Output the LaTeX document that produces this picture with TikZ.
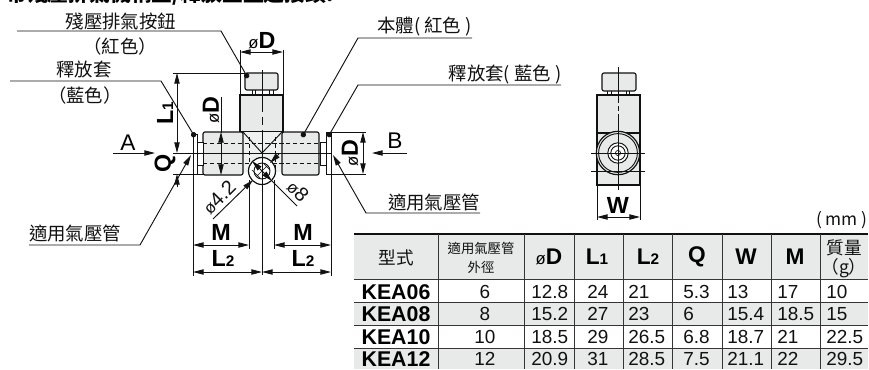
\documentclass[tikz,border=0pt]{standalone}
\usepackage{fontspec}
\setmainfont{Liberation Sans}
\newfontfamily\cjk{Noto Sans CJK TC}
\usetikzlibrary{arrows.meta}
\definecolor{bodygray}{HTML}{E8E9E9}
\definecolor{centergray}{HTML}{EFF0F0}
\definecolor{ink}{HTML}{111111}
\newcommand{\fs}[1]{\fontsize{#1}{#1}\selectfont}
\newcommand{\dia}{{\fs{12.5pt}\mdseries ø}}
\tikzset{
  x=.75pt,y=-.75pt,
  ln/.style={draw=ink,line width=.7pt},
  thin line/.style={draw=ink,line width=.5pt},
  thick line/.style={draw=ink,line width=.9pt},
  part/.style={fill=bodygray,draw=ink,line width=.85pt},
  hole/.style={draw=ink,line width=.7pt,dash pattern=on 3.2pt off 2pt},
  dimarrow/.style={ln,{Triangle[length=8pt,width=4pt]}-{Triangle[length=8pt,width=4pt]}},
  endarrow/.style={ln,-{Triangle[length=8pt,width=4pt]}},
  leader/.style={ln,-{Circle[length=4pt]}},
  cjklabel/.style={inner sep=0,font=\cjk\fs{13.8pt},text=ink},
  dimlabel/.style={inner sep=0,font=\bfseries\fs{17.5pt},text=black},
  th/.style={inner sep=0,font=\bfseries\fs{17pt},text=black},
  thc/.style={inner sep=0,font=\cjk\fs{13.2pt},text=ink},
  thsm/.style={inner sep=0,font=\cjk\fs{10pt},text=ink},
  model/.style={inner sep=0,font=\bfseries\fs{16pt},text=black},
  val/.style={inner sep=0,font=\fs{14.2pt},text=ink},
  vall/.style={val,anchor=west},
  tl/.style={draw=ink!85,line width=.7pt},
}
\begin{document}
\begin{tikzpicture}
\useasboundingbox (0,0) rectangle (869,369);
\begin{scope}
\clip (0,0) rectangle (869,369);
% clipped heading
\node[anchor=west,inner sep=0,font=\cjk\bfseries\fs{15.6pt}] (title) at (6,-6) {帶殘壓排氣機構型/釋放型直通接頭:};

% table backgrounds
\fill[bodygray] (354,234) rectangle (868,279);
\fill[bodygray] (354,302) rectangle (868,325);
\fill[bodygray] (354,348) rectangle (868,369);
\draw[draw=ink,line width=1.5pt] (354,234) -- (868,234);
\foreach \yy in {279,302,325,348} \draw[tl] (354,\yy) -- (868,\yy);
\foreach \xx in {438,524,574,623,672,722,771,820} \draw[tl] (\xx,234) -- (\xx,369);

% front view: shapes
\draw[part,rounded corners=1.5pt] (245,73) rectangle (278,90);
\draw[ln] (252,90) -- (252,95) (255,90) -- (255,95) (269,90) -- (269,95) (273,90) -- (273,95);
\draw[part] (240,95) rectangle (283,132);
\fill[centergray] (243,132) rectangle (282,172);
\draw[part,rounded corners=1.5pt] (203,132) rectangle (243,175);
\draw[part,rounded corners=1.5pt] (282,132) rectangle (319,175);
\draw[ln,fill=white] (197,142) rectangle (203,165);
\draw[ln,fill=white] (193,134) rectangle (197,174);
\draw[ln,fill=white] (320,142) rectangle (326,165);
\draw[ln,fill=white] (326,132) rectangle (331,174);
\draw[ln] (243,132) -- (262,153) -- (282,132);
\draw[hole] (203,143) -- (319,143) (203,163) -- (319,163);
\draw[hole] (249,137) -- (249,172) (275,137) -- (275,172);
\draw[thick line,fill=white] (262,171) circle[radius=13.5];
\draw[ln] (262,171) circle[radius=8];
\draw[thin line] (256,165) -- (268,177) (252,170) -- (260,178) (264,164) -- (270,170) (268,165) -- (256,177);

% extension and centre lines
\draw[ln] (173,73) -- (245,73) (173,153) -- (332,153) (173,174) -- (204,174);
\draw[ln] (262,70) -- (262,112) (262,117) -- (262,125) (262,130) -- (262,275);
\draw[ln] (240,50) -- (240,95) (283,50) -- (283,95);
\draw[ln] (193,175) -- (193,276) (331,174) -- (331,276);
\draw[ln] (249,180) -- (249,249) (274,180) -- (274,249);
\draw[ln] (331,132) -- (366,132) (331,174) -- (366,174);
\draw[ln] (221,97) -- (221,133);

% side view
\draw[part,rounded corners=1.5pt] (602,73) rectangle (636,91);
\draw[ln] (607,91) -- (607,95) (611,91) -- (611,95) (626,91) -- (626,95) (629,91) -- (629,95);
\draw[part] (597,133) rectangle (640,185);
\draw[part] (597,95) rectangle (640,133);
\draw[thick line,fill=bodygray] (618,153) circle[radius=21.7];
\draw[ln] (618,153) circle[radius=19.4];
\draw[ln,fill=white] (618,153) circle[radius=10.2];
\draw[ln] (618,153) circle[radius=7.2];
\draw[thin line] (618,153) circle[radius=2.6];
\draw[ln] (618,67) -- (618,103) (618,106) -- (618,111) (618,114) -- (618,190);
\draw[ln] (591,153) -- (645,153) (591,171) -- (645,171);
\draw[ln] (597,185) -- (597,220) (640,185) -- (640,220);

% dimension arrows
\coordinate (tlA) at (240,52); \coordinate (trA) at (283,52);
\draw[dimarrow] (tlA) -- (trA);
\node[dimlabel] (dTop) at (262,41) {\dia D};
\coordinate (L1a) at (177,73); \coordinate (L1b) at (177,153);
\draw[dimarrow] (L1a) -- (L1b);
\node[dimlabel,rotate=90] (L1t) at (165,113) {L\fs{11.5pt}1};
\coordinate (Qa) at (177,174); \coordinate (Qb) at (177,187);
\draw[endarrow] (Qb) -- (Qa);
\node[dimlabel,rotate=90] (Qt) at (165,163) {Q};
\coordinate (Da) at (221,132); \coordinate (Db) at (221,175);
\draw[dimarrow] (Da) -- (Db);
\node[dimlabel,rotate=90] (dL) at (211,110) {\dia D};
\coordinate (Ra) at (363,132); \coordinate (Rb) at (363,174);
\draw[dimarrow] (Ra) -- (Rb);
\node[dimlabel,rotate=90] (dR) at (350,153) {\dia D};
\coordinate (Ws) at (597,217); \coordinate (We) at (640,217);
\draw[dimarrow] (Ws) -- (We);
\node[dimlabel] (Wt) at (618,205) {W};
\coordinate (Ma) at (193,245); \coordinate (Mb) at (249,245);
\draw[dimarrow] (Ma) -- (Mb);
\node[dimlabel] (M1) at (221,232) {M};
\coordinate (Mc) at (274,245); \coordinate (Md) at (331,245);
\draw[dimarrow] (Mc) -- (Md);
\node[dimlabel] (M2) at (303,232) {M};
\coordinate (La) at (193,272); \coordinate (Lb) at (262,272); \coordinate (Lc) at (331,272);
\draw[dimarrow] (La) -- (Lb);
\draw[dimarrow] (Lb) -- (Lc);
\node[dimlabel] (L21) at (223,258) {L\fs{11.5pt}2};
\node[dimlabel] (L22) at (303,258) {L\fs{11.5pt}2};

% circle dimensions
\coordinate (p1) at (213,219); \coordinate (p2) at (253,180); \coordinate (p3) at (279,154); \coordinate (p4) at (270,163);
\draw[endarrow] (p1) -- (p2);
\draw[endarrow] (p3) -- (p4);
\node[inner sep=0,rotate=45,font=\fs{15pt},text=ink] (d42) at (219,197) {\dia 4.2};
\coordinate (q1) at (297,206); \coordinate (q2) at (272,181); \coordinate (q3) at (252,161);
\draw[ln] (q1) -- (q2);
\draw[dimarrow] (q2) -- (q3);
\node[inner sep=0,rotate=-45,font=\fs{15pt},text=ink] (d8) at (298,191) {\dia 8};

% A and B arrows
\node[inner sep=0,font=\fs{17pt}] (At) at (128,143) {A};
\coordinate (Aa) at (113,153); \coordinate (Ab) at (155,153);
\draw[endarrow] (Aa) -- (Ab);
\node[inner sep=0,font=\fs{17pt}] (Bt) at (395,141) {B};
\coordinate (Ba) at (407,153); \coordinate (Bb) at (372,153);
\draw[endarrow] (Ba) -- (Bb);

% leaders
\node[cjklabel] (lab1) at (121,21) {殘壓排氣按鈕};
\node[cjklabel] (lab1b) at (120,47) {（紅色）};
\coordinate (l1a) at (17,31); \coordinate (l1b) at (221,31); \coordinate (l1c) at (248,78);
\draw[leader] (l1a) -- (l1b) -- (l1c);
\node[cjklabel] (lab2) at (84,70) {釋放套};
\node[cjklabel] (lab2b) at (85,96) {（藍色）};
\coordinate (l2a) at (10,81); \coordinate (l2b) at (161,81); \coordinate (l2c) at (195,137);
\draw[leader] (l2a) -- (l2b) -- (l2c);
\node[cjklabel] (lab3) at (75,233) {適用氣壓管};
\coordinate (l3a) at (29,245); \coordinate (l3b) at (140,245); \coordinate (l3c) at (191,155);
\draw[endarrow] (l3a) -- (l3b) -- (l3c);
\node[cjklabel] (lab4) at (424.5,27) {本體( 紅色 )};
\coordinate (l4a) at (472,38); \coordinate (l4b) at (358,38); \coordinate (l4c) at (302,137);
\draw[leader] (l4a) -- (l4b) -- (l4c);
\node[cjklabel] (lab5) at (505,75) {釋放套( 藍色 )};
\coordinate (l5a) at (561,85); \coordinate (l5b) at (358,85); \coordinate (l5c) at (328,137);
\draw[leader] (l5a) -- (l5b) -- (l5c);
\node[cjklabel] (lab6) at (434,202) {適用氣壓管};
\coordinate (l6a) at (480,213); \coordinate (l6b) at (366,213); \coordinate (l6c) at (333,155);
\draw[endarrow] (l6a) -- (l6b) -- (l6c);

% table text
\node[inner sep=0,anchor=east,font=\cjk\fs{13pt},text=ink] (mm) at (868,220) {( mm )};
\node[thc] (h1) at (396,258) {型式};
\node[thsm] (h2a) at (481,248) {適用氣壓管};
\node[thsm] (h2b) at (481,267) {外徑};
\node[th] (h3) at (549,257) {\dia D};
\node[th] (h4) at (597,257) {L\fs{11.5pt}1};
\node[th] (h5) at (648,257) {L\fs{11.5pt}2};
\node[th] (h6) at (697,257) {Q};
\node[th] (h7) at (746,257) {W};
\node[th] (h8) at (795,257) {M};
\node[thc] (h9a) at (844,248) {質量};
\node[thc] (h9b) at (844,268) {（g）};

\node[model] (m1) at (396,292) {KEA06};
\node[model] (m2) at (396,314) {KEA08};
\node[model] (m3) at (396,337) {KEA10};
\node[model] (m4) at (396,359) {KEA12};
\node[val] (o1) at (485,292) {6};
\node[val] (o2) at (485,314) {8};
\node[val] (o3) at (485,337) {10};
\node[val] (o4) at (485,359) {12};

\node[vall] (a1) at (531,292) {12.8};
\node[vall] (a2) at (531,314) {15.2};
\node[vall] (a3) at (531,337) {18.5};
\node[vall] (a4) at (531,359) {20.9};
\node[vall] (b1) at (587,292) {24};
\node[vall] (b2) at (587,314) {27};
\node[vall] (b3) at (587,337) {29};
\node[vall] (b4) at (587,359) {31};
\node[vall] (c1) at (628,292) {21};
\node[vall] (c2) at (628,314) {23};
\node[vall] (c3) at (628,337) {26.5};
\node[vall] (c4) at (628,359) {28.5};
\node[vall] (e1) at (683,292) {5.3};
\node[vall] (e2) at (683,314) {6};
\node[vall] (e3) at (683,337) {6.8};
\node[vall] (e4) at (683,359) {7.5};
\node[vall] (f1) at (727,292) {13};
\node[vall] (f2) at (727,314) {15.4};
\node[vall] (f3) at (727,337) {18.7};
\node[vall] (f4) at (727,359) {21.1};
\node[vall] (g1) at (777,292) {17};
\node[vall] (g2) at (777,314) {18.5};
\node[vall] (g3) at (777,337) {21};
\node[vall] (g4) at (777,359) {22};
\node[vall] (k1) at (826,292) {10};
\node[vall] (k2) at (826,314) {15};
\node[vall] (k3) at (826,337) {22.5};
\node[vall] (k4) at (826,359) {29.5};
\end{scope}
\end{tikzpicture}
\end{document}
